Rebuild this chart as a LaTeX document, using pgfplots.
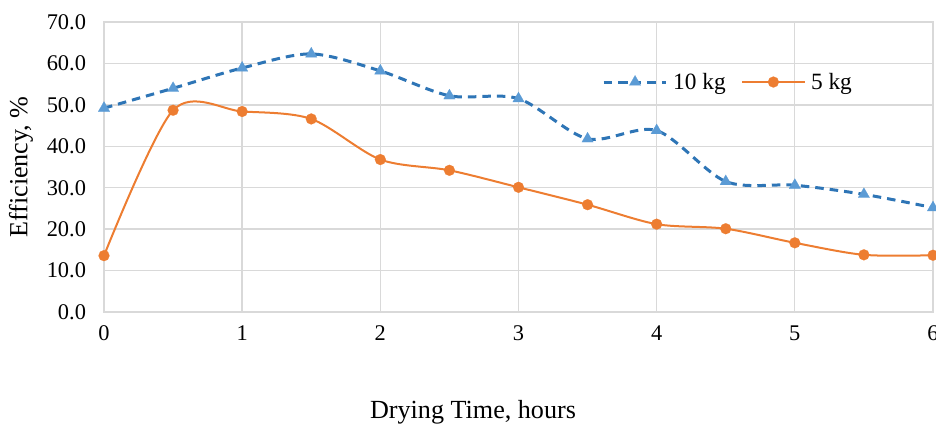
\documentclass[border=0pt]{standalone}
\usepackage{pgfplots}
\pgfplotsset{compat=1.18}
\usepackage{fontspec}
\setmainfont{Liberation Serif}
\definecolor{gridc}{HTML}{D9D9D9}
\definecolor{bline}{HTML}{2E75B6}
\definecolor{bmark}{HTML}{5B9BD5}
\definecolor{oline}{HTML}{ED7D31}
\begin{document}
\begin{tikzpicture}[x=1pt,y=1pt]
\useasboundingbox (0,0) rectangle (702,321);
\begin{axis}[
  at={(78pt,87pt)}, anchor=south west,
  scale only axis, width=621.75pt, height=217.5pt,
  xmin=0, xmax=6, ymin=0, ymax=70,
  xtick={0,1,...,6}, ytick={0,10,...,70},
  grid=major, major grid style={gridc, line width=1pt},
  axis line style={gridc, line width=1pt},
  tick style={draw=none},
  clip=false,
  /pgf/number format/assume math mode=true,
  yticklabel style={/pgf/number format/fixed, /pgf/number format/fixed zerofill, /pgf/number format/precision=1, xshift=-10pt},
  ticklabel style={font=\fontsize{16.8}{18}\selectfont, text=black},
  xticklabel style={yshift=-7pt},
  legend style={draw=none, fill=none, inner sep=0pt, at={(0.6007,0.793)}, anchor=west,
    font=\fontsize{17.5}{19}\selectfont, legend columns=2,
    /tikz/every even column/.append style={column sep=9.5pt},
    /tikz/every odd column/.append style={column sep=2pt}},
  legend image code/.code={
    \draw[mark repeat=2, mark phase=2, #1] plot coordinates {(0pt,0pt) (23.5pt,0pt) (47pt,0pt)};
  },
]
\addplot[bline, line width=2.25pt, dash pattern=on 6.4pt off 4.5pt, smooth,
  mark=triangle*, mark size=5pt, mark options={solid, fill=bmark, draw=bmark, line width=0.1pt}]
  coordinates {(0,49.2) (0.5,54.0) (1,58.9) (1.5,62.3) (2,58.2) (2.5,52.2) (3,51.5)
   (3.5,41.8) (4,43.8) (4.5,31.5) (5,30.6) (5.5,28.4) (6,25.2)};
\addlegendentry{10 kg}
\addplot[oline, line width=1.5pt, smooth,
  mark=*, mark size=4.1pt, mark options={fill=oline, draw=oline, line width=0.1pt}]
  coordinates {(0,13.6) (0.5,48.7) (1,48.4) (1.5,46.6) (2,36.8) (2.5,34.2) (3,30.1)
   (3.5,25.9) (4,21.2) (4.5,20.1) (5,16.7) (5.5,13.8) (6,13.7)};
\addlegendentry{5 kg}
\end{axis}
\node at (354.75,12) {\fontsize{19.6}{22}\selectfont Drying Time, hours};
\node[rotate=90] at (15.75,195.75) {\fontsize{19.6}{22}\selectfont Efficiency, \%};
\end{tikzpicture}
\end{document}
